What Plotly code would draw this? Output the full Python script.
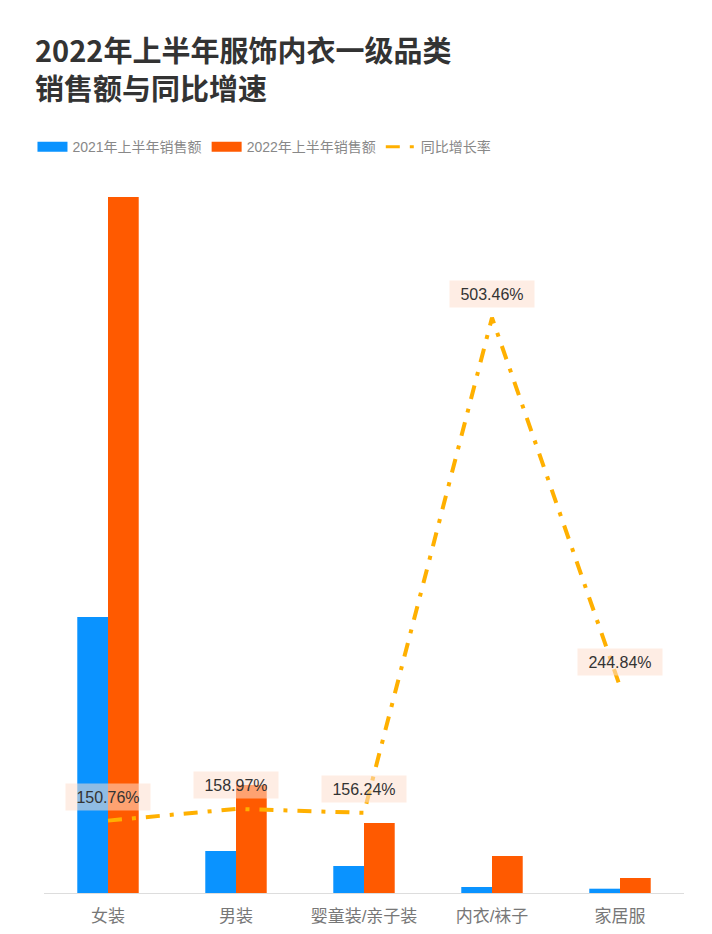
import plotly.graph_objects as go

categories = ["女装", "男装", "婴童装/亲子装", "内衣/袜子", "家居服"]
sales_2021 = [276, 42, 27, 6, 4.3]
sales_2022 = [696, 108, 70, 37, 15]
growth_rate = [150.76, 158.97, 156.24, 503.46, 244.84]
growth_labels = ["150.76%", "158.97%", "156.24%", "503.46%", "244.84%"]
series_names = ["2021年上半年销售额", "2022年上半年销售额", "同比增长率"]

CJK = "Noto Sans CJK SC"
SANS = "Liberation Sans, Noto Sans CJK SC"
BLUE, ORANGE, YELLOW = "#0A93FF", "#FF5A00", "#FFB000"

fig = go.Figure()
fig.add_trace(go.Bar(x=categories, y=sales_2021, name=series_names[0], showlegend=False,
                     marker=dict(color=BLUE, line=dict(width=0))))
fig.add_trace(go.Bar(x=categories, y=sales_2022, name=series_names[1], showlegend=False,
                     marker=dict(color=ORANGE, line=dict(width=0))))
fig.add_trace(go.Scatter(x=categories, y=growth_rate, name=series_names[2], yaxis="y2",
                         mode="lines", showlegend=False,
                         line=dict(color=YELLOW, width=4, dash="14px,10px,4px,10px")))

# legend entries (wide rectangle swatches like the reference)
for nm, col, w, d in [(series_names[0], BLUE, 10, "solid"),
                      (series_names[1], ORANGE, 10, "solid"),
                      (series_names[2], YELLOW, 3, "14px,10px,4px,10px")]:
    fig.add_trace(go.Scatter(x=[None], y=[None], mode="lines", name=nm,
                             line=dict(color=col, width=w, dash=d)))

for c, v, t in zip(categories, growth_rate, growth_labels):
    fig.add_annotation(x=c, y=v, yref="y2", text=t, showarrow=False, yshift=24,
                       font=dict(family=SANS, size=16, color="#333333"),
                       bgcolor="rgba(253,222,205,0.55)", borderpad=3, width=78, height=20)

fig.update_layout(
    width=704, height=926,
    margin=dict(l=36, r=28, t=172, b=41, autoexpand=False),
    paper_bgcolor="white", plot_bgcolor="white",
    barmode="group", bargap=0.52, bargroupgap=0,
    title=dict(text="<b>2022年上半年服饰内衣一级品类<br>销售额与同比增速</b>",
               x=27 / 704, xanchor="left", y=1 - 54 / 926, yanchor="top",
               font=dict(family=CJK, size=29, color="#333333")),
    legend=dict(orientation="h", x=-0.018, xanchor="left", y=1.046, yanchor="middle",
                font=dict(family=SANS, size=14, color="#888888"),
                itemwidth=30, tracegroupgap=0, traceorder="normal"),
    xaxis=dict(showline=True, linecolor="#DDDDDD", linewidth=1, ticks="",
               ticklabelstandoff=8, automargin=False,
               tickfont=dict(family=SANS, size=17, color="#777777"), showgrid=False),
    yaxis=dict(range=[0, 713], visible=False, showgrid=False, automargin=False),
    yaxis2=dict(range=[100, 600], overlaying="y", visible=False, showgrid=False,
                automargin=False),
    font=dict(family=SANS),
)

fig.write_html("out.html")
